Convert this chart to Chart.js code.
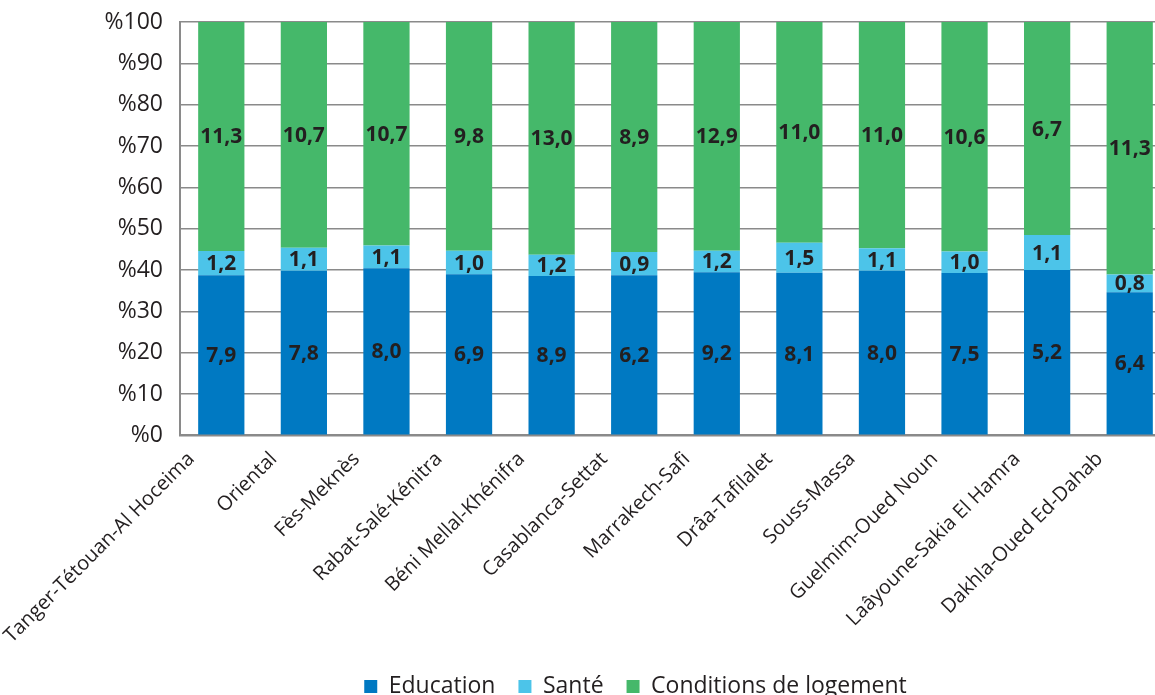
<!DOCTYPE html>
<html lang="fr">
<head>
    <meta charset="UTF-8">
    <title>Répartition par région</title>
    <script src="https://cdn.jsdelivr.net/npm/chart.js"></script>
    <style>
        html, body { margin: 0; padding: 0; background: #fff; overflow: hidden; }
        #wrap { width: 1171px; height: 695px; position: relative; }
    </style>
</head>
<body>
    <div id="wrap">
        <canvas id="chart"></canvas>
    </div>

    <script>
        const regions = [
            'Tanger-Tétouan-Al Hoceima', 'Oriental', 'Fès-Meknès', 'Rabat-Salé-Kénitra',
            'Béni Mellal-Khénifra', 'Casablanca-Settat', 'Marrakech-Safi', 'Drâa-Tafilalet',
            'Souss-Massa', 'Guelmim-Oued Noun', 'Laâyoune-Sakia El Hamra', 'Dakhla-Oued Ed-Dahab'
        ];
        const education = [7.9, 7.8, 8.0, 6.9, 8.9, 6.2, 9.2, 8.1, 8.0, 7.5, 5.2, 6.4];
        const sante     = [1.2, 1.1, 1.1, 1.0, 1.2, 0.9, 1.2, 1.5, 1.1, 1.0, 1.1, 0.8];
        const logement  = [11.3, 10.7, 10.7, 9.8, 13.0, 8.9, 12.9, 11.0, 11.0, 10.6, 6.7, 11.3];
        const yTicks = [0, 10, 20, 30, 40, 50, 60, 70, 80, 90, 100];

        const textColor = '#231f20';
        const fontFamily = '"Open Sans", "Noto Sans", sans-serif';

        // each region's bar is the share of its own total
        const totals = regions.map((_, i) => education[i] + sante[i] + logement[i]);
        const share = arr => arr.map((v, i) => v / totals[i] * 100);

        function series(label, raw, color) {
            return {
                label: label,
                data: share(raw),
                raw: raw,
                backgroundColor: color,
                borderWidth: 0,
                barPercentage: 0.56,
                categoryPercentage: 1
            };
        }

        // writes the raw value in the middle of every segment
        const segmentLabels = {
            id: 'segmentLabels',
            afterDatasetsDraw(chart) {
                const ctx = chart.ctx;
                ctx.save();
                ctx.font = 'bold 21px ' + fontFamily;
                ctx.fillStyle = textColor;
                ctx.textAlign = 'center';
                ctx.textBaseline = 'middle';
                chart.data.datasets.forEach((ds, di) => {
                    chart.getDatasetMeta(di).data.forEach((bar, i) => {
                        const y = (bar.y + bar.base) / 2;
                        ctx.fillText(ds.raw[i].toFixed(1).replace('.', ','), bar.x, y + 1);
                    });
                });
                ctx.restore();
            }
        };

        new Chart(document.getElementById('chart'), {
            type: 'bar',
            data: {
                labels: regions,
                datasets: [
                    series('Education', education, '#0079c2'),
                    series('Santé', sante, '#4cc4e9'),
                    series('Conditions de logement', logement, '#45b86a')
                ]
            },
            options: {
                responsive: true,
                maintainAspectRatio: false,
                animation: false,
                layout: { padding: { top: 22, left: 100, right: 0, bottom: -13 } },
                plugins: {
                    legend: {
                        position: 'bottom',
                        labels: {
                            boxWidth: 13,
                            boxHeight: 13,
                            padding: 23,
                            color: textColor,
                            font: { size: 23, family: fontFamily }
                        }
                    },
                    tooltip: { enabled: false }
                },
                scales: {
                    x: {
                        stacked: true,
                        grid: { display: false },
                        border: { display: true, color: '#8a8a8a', width: 2 },
                        ticks: {
                            maxRotation: 45,
                            minRotation: 45,
                            autoSkip: false,
                            color: textColor,
                            padding: 4,
                            labelOffset: -30,
                            font: { size: 20, family: fontFamily }
                        }
                    },
                    y: {
                        stacked: true,
                        min: 0,
                        max: 100,
                        afterBuildTicks: axis => { axis.ticks = yTicks.map(v => ({ value: v })); },
                        afterFit: axis => {
                            axis.width = 80;
                            axis.paddingTop = 0;
                            axis.paddingBottom = 0;
                        },
                        grid: { color: '#8a8a8a', lineWidth: 1.5, drawTicks: false },
                        border: { display: true, color: '#8a8a8a', width: 2 },
                        ticks: {
                            padding: 17,
                            color: textColor,
                            font: { size: 23, family: fontFamily },
                            callback: v => '%' + v
                        }
                    }
                }
            },
            plugins: [segmentLabels]
        });
    </script>
</body>
</html>
